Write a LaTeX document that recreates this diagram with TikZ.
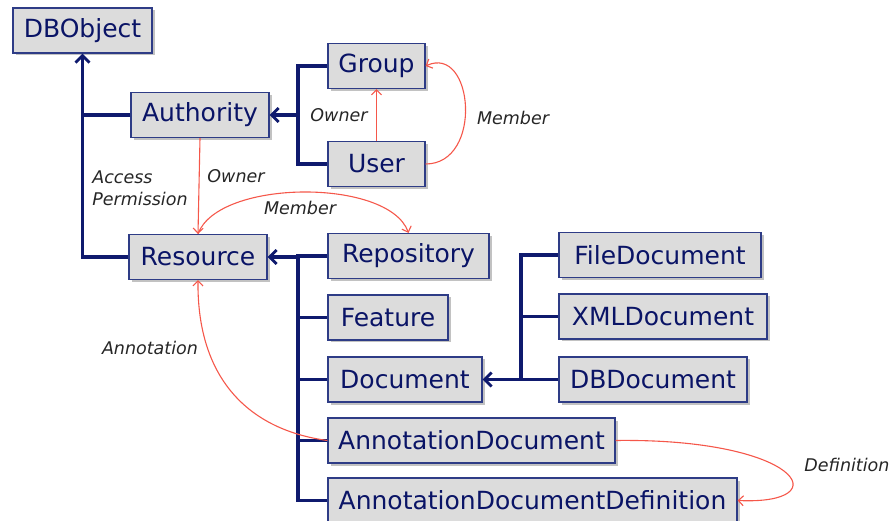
\documentclass[tikz,border=0pt]{standalone}
\usepackage{fontspec}
\setmainfont{DejaVu Sans}
\usepackage{tikz}
\usetikzlibrary{positioning,arrows.meta,shadows}
\usepackage{xcolor}
\definecolor{NavyLine}{HTML}{0F1A6E}
\definecolor{NavyText}{HTML}{0A1466}
\definecolor{BoxGrey}{HTML}{DCDCDC}
\definecolor{BoxEdge}{HTML}{2E3C86}
\definecolor{RelRed}{HTML}{F5574A}

\begin{document}
\begin{tikzpicture}[x=1pt,y=-1pt,
  classbox/.style={draw=BoxEdge,line width=1.2pt,fill=BoxGrey,text=NavyText,
    font=\fontsize{25}{30}\selectfont,minimum height=45pt,inner xsep=10pt,
    drop shadow={shadow xshift=2.5pt,shadow yshift=-2.5pt,fill=black!40,opacity=0.6}},
  tree/.style={NavyLine,line width=3.3pt},
  inherit/.style={tree,-{Straight Barb[length=7pt,width=14pt,line width=2.8pt]}},
  rel/.style={RelRed,line width=1.1pt,-{Straight Barb[length=5pt,width=10pt,line width=1.1pt]}},
  rellabel/.style={font=\fontsize{17.5}{22}\selectfont\itshape,text=black!85}]
\useasboundingbox (0,0) rectangle (892,521);
\node[classbox,minimum width=139pt] (dbobject) at (82.5,30.5) {DBObject};
\node[classbox,minimum width=138pt] (authority) at (200,115) {Authority};
\node[classbox,minimum width=97pt] (group) at (376.5,66) {Group};
\node[classbox,minimum width=97pt] (user) at (376.5,164) {User};
\node[classbox,minimum width=138pt] (resource) at (198,257) {Resource};
\node[classbox,minimum width=161pt] (repository) at (408.5,256) {Repository};
\node[classbox,minimum width=120pt] (feature) at (388,317.5) {Feature};
\node[classbox,minimum width=154pt] (document) at (405,379.5) {Document};
\node[classbox,minimum width=202pt] (filedoc) at (660,255) {FileDocument};
\node[classbox,minimum width=208pt] (xmldoc) at (663,316.5) {XMLDocument};
\node[classbox,minimum width=188pt] (dbdoc) at (653,379.5) {DBDocument};
\node[classbox,minimum width=287pt] (annotdoc) at (471.5,440.5) {AnnotationDocument};
\node[classbox,minimum width=409pt] (annotdef) at (532.5,500.5) {AnnotationDocumentDefinition};
\coordinate (atrunk) at (298,115);
\coordinate (rtrunk) at (298,257);
\coordinate (dtrunk) at (521,379.5);
\draw[inherit] (resource.west) -| (dbobject.south);
\draw[tree] (authority.west) -- (authority.west -| dbobject.south);
\draw[inherit] (atrunk) -- (authority.east);
\draw[tree] (group.west) -| (atrunk) |- (user.west);
\draw[inherit] (rtrunk) -- (resource.east);
\draw[tree] (repository.west) -| (rtrunk) |- (annotdef.west);
\foreach \n in {feature,document,annotdoc}
  \draw[tree] (rtrunk |- \n.west) -- (\n.west);
\draw[inherit] (dtrunk) -- (document.east);
\draw[tree] (filedoc.west) -| (dtrunk) -- (dbdoc.west);
\draw[tree] (dtrunk |- xmldoc.west) -- (xmldoc.west);
\draw[rel] (user.north) -- (group.south);
\draw[rel] (user.east) .. controls +(58,0) and +(48,-22) .. (group.east);
\draw[rel] (authority.south) -- (resource.north);
\draw[rel] (resource.north) .. controls +(20,-55) and +(-20,-55) .. (repository.north);
\draw[rel] (annotdoc.west) .. controls (250,430) and (197,380) .. (resource.south);
\draw[rel] (annotdoc.east) .. controls (800,438) and (840,505) .. (annotdef.east);
\node[rellabel] (ownerone) at (339,115) {Owner};
\node[rellabel] (memberone) at (513,118) {Member};
\node[rellabel] (ownertwo) at (236,176) {Owner};
\node[rellabel,align=left] (access) at (140,188.5) {Access\\Permission};
\node[rellabel] (membertwo) at (300,208) {Member};
\node[rellabel] (annotation) at (150,348) {Annotation};
\node[rellabel] (definition) at (847,465) {Definition};
\end{tikzpicture}
\end{document}
